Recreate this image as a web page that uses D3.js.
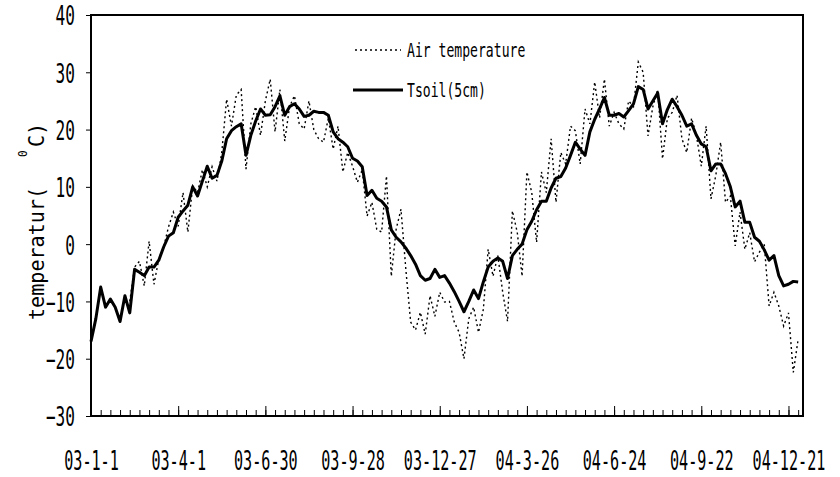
<!DOCTYPE html>
<html>
<head>
<meta charset="utf-8">
<style>
  body { margin: 0; background: #fff; }
  svg text { font-family: "DejaVu Sans Mono", monospace; fill: #000; }
  .frame { fill: none; stroke: #000; stroke-width: 2px; }
  .tsoil { fill: none; stroke: #000; stroke-width: 3px; stroke-linejoin: round; }
  .air { fill: none; stroke: #000; stroke-width: 1.4px; stroke-dasharray: 2,3; }
  .axis path { display: none; }
  .axis line { stroke: #000; stroke-width: 1px; }
</style>
</head>
<body>
<svg width="840" height="477"></svg>
<script src="https://d3js.org/d3.v7.min.js"></script>
<script>
// readings every 5 days from 2003-01-01
var startDate = new Date(Date.UTC(2003, 0, 1));
var stepDays = 5;

var tsoil = [
  -17, -13, -7.5, -11, -9.6, -11, -13.5, -9, -12, -4.4,
  -4.9, -5.5, -4, -4, -2.8, -0.5, 1.4, 2, 4.7, 5.8,
  6.8, 10, 8.4, 11, 13.6, 11.5, 12, 14.5, 18.4, 19.8,
  20.5, 21, 15.5, 19, 21.5, 23.6, 22.5, 22.6, 24, 25.9,
  22.5, 24, 24.5, 23.6, 22.3, 22.5, 23.2, 23, 23, 22.5,
  19.6, 18.4, 17.8, 17, 15, 14.5, 13.5, 8.5, 9.4, 8,
  7.5, 6.5, 2.5, 1.2, 0.4, -0.7, -2, -3.5, -5.5, -6.3,
  -6, -4.4, -5.8, -5.5, -6.8, -8.3, -10, -11.8, -10, -8,
  -9.5, -6.6, -4, -3, -2.4, -3, -6, -2, -0.9, 0,
  2.5, 4, 6, 7.5, 7.5, 9.8, 11.5, 11.8, 13.3, 15.5,
  17.8, 16.6, 15.5, 19.6, 21.8, 23.6, 25.6, 22.5, 22.5, 22.8,
  22.2, 23.3, 24.5, 27.5, 27, 23.6, 25, 26.4, 21, 23.5,
  25.3, 24, 22.5, 20.6, 21, 19, 17.5, 17, 12.8, 14,
  14, 12.3, 10, 6.5, 7.5, 3.8, 3.8, 1.2, 0.5, -1,
  -2.8, -2, -5.5, -7.3, -7, -6.5, -6.6
];

var air = [
  null, null, null, null, null, null, null, null, -10, -4,
  -3, -7.3, 0.5, -7, -2.6, -0.5, 3, 5.6, 3.1, 9,
  2.1, 10.2, 9, 13, 10, 13.5, 11, 16, 25.3, 20.6,
  26, 27, 13.1, 21, 24, 19, 25, 28.8, 19.6, 27,
  18, 24, 25.9, 21, 20.1, 25, 20, 18.4, 17.8, 22,
  16.6, 20.6, 12.6, 16, 13.6, 10.8, 13, 4.9, 7.3, 2.6,
  2.1, 11.9, -5.6, 2.6, 6.1, -4.4, -13.6, -15, -11.9, -15.7,
  -9, -12.6, -8.4, -10.1, -10, -13.6, -15.4, -20, -13, -11,
  -15.4, -11.4, -0.9, -5.6, -2, -8.4, -13.5, 5.8, 2.1, -5.6,
  12.6, 9, 0.3, 12.6, 9, 18.4, 7.3, 16, 14, 20.6,
  19.8, 14, 23.6, 21, 28.3, 22, 28.8, 20.6, 23, 21,
  20.1, 25, 24, 31.8, 30, 18.9, 24, 27, 14.9, 22,
  23, 26, 18.4, 16, 22, 19, 13.6, 20.6, 7.9, 12,
  17.8, 7.3, 8.4, -0.3, 5.6, -0.9, 2, -3.1, -1.4, 0,
  -10.8, -8.4, -10.8, -14.3, -12, -22.4, -16.6
];

var yTicks = [-30, -20, -10, 0, 10, 20, 30, 40];
var legendNames = ["Air temperature", "Tsoil(5cm)"];

var svg = d3.select("svg");
var plotL = 91, plotR = 803, plotT = 15, plotB = 416;

var x = d3.scaleUtc()
    .domain([startDate, d3.utcDay.offset(startDate, 735)])
    .range([plotL, plotR]);
var y = d3.scaleLinear().domain([-30, 40]).range([plotB, plotT]);

var dates = tsoil.map(function(d, i) { return d3.utcDay.offset(startDate, i * stepDays); });
var minorTicks = d3.range(0, 731, 10).map(function(d) { return d3.utcDay.offset(startDate, d); });
var majorTicks = d3.range(0, 731, 90).map(function(d) { return d3.utcDay.offset(startDate, d); });
var fmt = d3.utcFormat("%y-%-m-%-d");

// narrow monospace look: squeeze the glyphs horizontally
var sxTick = 0.56, syTick = 0.62, sxLeg = 0.69, sxTitle = 0.914;

// minor ticks
svg.append("g")
    .attr("class", "axis")
    .attr("transform", "translate(0," + plotB + ")")
    .call(d3.axisBottom(x).tickValues(minorTicks).tickSizeInner(-6).tickSizeOuter(0).tickFormat(""));

// major ticks + labels
var gx = svg.append("g")
    .attr("class", "axis")
    .attr("transform", "translate(0," + plotB + ")")
    .call(d3.axisBottom(x).tickValues(majorTicks).tickSizeInner(-10).tickSizeOuter(0).tickFormat(fmt));
gx.selectAll("text")
    .style("font-size", "27px")
    .attr("y", 54).attr("dy", 0)
    .attr("transform", "scale(" + sxTick + ",1)");

var gy = svg.append("g")
    .attr("class", "axis")
    .attr("transform", "translate(" + plotL + ",0)")
    .call(d3.axisLeft(y).tickValues(yTicks).tickSizeInner(5).tickSizeOuter(0));
gy.selectAll("text")
    .style("font-size", "26px")
    .attr("x", -16 / syTick)
    .attr("dy", "0.38em")
    .attr("transform", "scale(" + syTick + ",1)");

svg.append("rect")
    .attr("class", "frame")
    .attr("x", plotL).attr("y", plotT)
    .attr("width", plotR - plotL).attr("height", plotB - plotT);

var line = d3.line()
    .defined(function(d) { return d[1] != null; })
    .x(function(d) { return x(d[0]); })
    .y(function(d) { return y(d[1]); });

svg.append("path")
    .attr("class", "air")
    .attr("d", line(dates.map(function(d, i) { return [d, air[i]]; })));

svg.append("path")
    .attr("class", "tsoil")
    .attr("d", line(dates.map(function(d, i) { return [d, tsoil[i]]; })));

// y title
var title = svg.append("g").attr("transform", "translate(44,320) rotate(-90) scale(" + sxTitle + ",1)");
title.append("text")
    .style("font-size", "22px")
    .text("temperatur(");
title.append("text")
    .attr("x", 163 / sxTitle).attr("y", -17)
    .style("font-size", "12px")
    .text("0");
title.append("text")
    .attr("x", 173 / sxTitle)
    .style("font-size", "22px")
    .text("C)");

// legend
var legend = svg.append("g");
legend.append("line")
    .attr("class", "air")
    .attr("x1", 355).attr("x2", 401).attr("y1", 50).attr("y2", 50);
legend.append("line")
    .attr("class", "tsoil")
    .attr("x1", 353).attr("x2", 403).attr("y1", 90).attr("y2", 90);
legend.selectAll("text.lg")
    .data(legendNames)
  .enter().append("text")
    .attr("class", "lg")
    .attr("x", 407 / sxLeg)
    .attr("y", function(d, i) { return 57 + i * 40; })
    .attr("transform", "scale(" + sxLeg + ",1)")
    .style("font-size", "19px")
    .text(function(d) { return d; });
</script>
</body>
</html>
